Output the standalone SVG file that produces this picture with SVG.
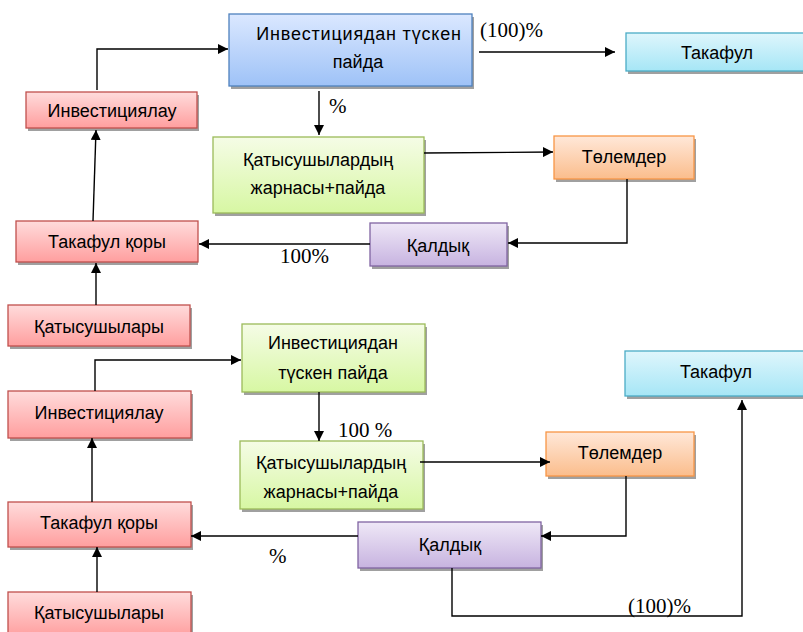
<svg xmlns="http://www.w3.org/2000/svg" width="803" height="632" viewBox="0 0 803 632">
<style>
.t{font-family:"Liberation Sans",Arial,sans-serif;font-size:18px;fill:#000;text-anchor:middle}
.l{font-family:"Liberation Serif","Times New Roman",serif;font-size:21px;fill:#000}
.sh{fill:#a0a0a0}
.c{fill:none;stroke:#000;stroke-width:1.4}
.red{fill:url(#gRed);stroke:#c0504d;stroke-width:1.3}
.blue{fill:url(#gBlue);stroke:#4f81bd;stroke-width:1.3}
.cyan{fill:url(#gCyan);stroke:#4bacc6;stroke-width:1.3}
.green{fill:url(#gGreen);stroke:#9bbb59;stroke-width:1.3}
.orange{fill:url(#gOrange);stroke:#f79646;stroke-width:1.3}
.purple{fill:url(#gPurple);stroke:#8064a2;stroke-width:1.3}
</style>
<defs>
<linearGradient id="gRed" x1="0" y1="0" x2="0" y2="1"><stop offset="0" stop-color="#ffdcdc"/><stop offset="1" stop-color="#ff9e9e"/></linearGradient>
<linearGradient id="gBlue" x1="0" y1="0" x2="0" y2="1"><stop offset="0" stop-color="#dbe8ff"/><stop offset="1" stop-color="#9ec2f7"/></linearGradient>
<linearGradient id="gCyan" x1="0" y1="0" x2="0" y2="1"><stop offset="0" stop-color="#dff6fc"/><stop offset="1" stop-color="#a6e6f6"/></linearGradient>
<linearGradient id="gGreen" x1="0" y1="0" x2="0" y2="1"><stop offset="0" stop-color="#f5fce6"/><stop offset="1" stop-color="#d7f7a3"/></linearGradient>
<linearGradient id="gOrange" x1="0" y1="0" x2="0" y2="1"><stop offset="0" stop-color="#ffe8d9"/><stop offset="1" stop-color="#fbbd8c"/></linearGradient>
<linearGradient id="gPurple" x1="0" y1="0" x2="0" y2="1"><stop offset="0" stop-color="#efe8f7"/><stop offset="1" stop-color="#c7b3e0"/></linearGradient>
<marker id="ah" viewBox="0 0 10 10" refX="10" refY="5" markerWidth="10" markerHeight="10" markerUnits="userSpaceOnUse" orient="auto"><path d="M0,0 L10,5 L0,10 Z" fill="#000"/></marker>
</defs>
<rect width="803" height="632" fill="#fff"/>

<!-- top half -->
<g id="n_profit1"><rect class="sh" x="231" y="17" width="243" height="72"/><rect class="blue" x="229" y="14" width="243" height="72"/><text class="t" x="359" y="40" letter-spacing="0.8">Инвестициядан түскен</text><text class="t" x="358" y="68">пайда</text></g>
<g id="n_takaful1"><rect class="sh" x="628" y="36" width="180" height="38"/><rect class="cyan" x="626" y="33" width="180" height="38"/><text class="t" x="717" y="59">Такафул</text></g>
<g id="n_invest1"><rect class="sh" x="28" y="95" width="171" height="36"/><rect class="red" x="26" y="92" width="171" height="36"/><text class="t" x="112" y="117">Инвестициялау</text></g>
<g id="n_contrib1"><rect class="sh" x="215" y="140" width="211" height="76"/><rect class="green" x="213" y="137" width="211" height="76"/><text class="t" x="318" y="166">Қатысушылардың</text><text class="t" x="318" y="194">жарнасы+пайда</text></g>
<g id="n_pay1"><rect class="sh" x="556" y="139" width="140" height="43"/><rect class="orange" x="554" y="136" width="140" height="43"/><text class="t" x="624" y="163">Төлемдер</text></g>
<g id="n_rest1"><rect class="sh" x="372" y="226" width="137" height="43"/><rect class="purple" x="370" y="223" width="137" height="43"/><text class="t" x="438" y="252">Қалдық</text></g>
<g id="n_fund1"><rect class="sh" x="18" y="224" width="180" height="41"/><rect class="red" x="16" y="221" width="182" height="41"/><text class="t" x="107" y="248">Такафул қоры</text></g>
<g id="n_part1"><rect class="sh" x="10" y="308" width="182" height="41"/><rect class="red" x="8" y="305" width="182" height="41"/><text class="t" x="99" y="333">Қатысушылары</text></g>

<!-- bottom half -->
<g id="n_profit2"><rect class="sh" x="244" y="327" width="183" height="68"/><rect class="green" x="242" y="324" width="183" height="68"/><text class="t" x="333" y="349">Инвестициядан</text><text class="t" x="333" y="379">түскен пайда</text></g>
<g id="n_takaful2"><rect class="sh" x="627" y="354" width="180" height="45"/><rect class="cyan" x="625" y="351" width="180" height="45"/><text class="t" x="716" y="378">Такафул</text></g>
<g id="n_invest2"><rect class="sh" x="10" y="394" width="183" height="47"/><rect class="red" x="8" y="391" width="183" height="47"/><text class="t" x="99" y="419">Инвестициялау</text></g>
<g id="n_contrib2"><rect class="sh" x="242" y="444" width="183" height="68"/><rect class="green" x="240" y="441" width="183" height="68"/><text class="t" x="331" y="469">Қатысушылардың</text><text class="t" x="331" y="498">жарнасы+пайда</text></g>
<g id="n_pay2"><rect class="sh" x="548" y="435" width="148" height="44"/><rect class="orange" x="546" y="432" width="148" height="44"/><text class="t" x="620" y="459">Төлемдер</text></g>
<g id="n_rest2"><rect class="sh" x="360" y="525" width="183" height="46"/><rect class="purple" x="358" y="522" width="183" height="46"/><text class="t" x="450" y="551">Қалдық</text></g>
<g id="n_fund2"><rect class="sh" x="10" y="505" width="183" height="45"/><rect class="red" x="8" y="502" width="183" height="45"/><text class="t" x="99" y="529">Такафул қоры</text></g>
<g id="n_part2"><rect class="sh" x="10" y="595" width="183" height="45"/><rect class="red" x="8" y="592" width="183" height="45"/><text class="t" x="99" y="619">Қатысушылары</text></g>

<g id="connectors">
<polyline class="c" points="97,90 97,49 228,49" marker-end="url(#ah)"/>
<line class="c" x1="479" y1="52" x2="615" y2="52" marker-end="url(#ah)"/>
<line class="c" x1="319" y1="91" x2="319" y2="135" marker-end="url(#ah)"/>
<line class="c" x1="424" y1="153" x2="553" y2="152" marker-end="url(#ah)"/>
<polyline class="c" points="627,179 627,243 508,243" marker-end="url(#ah)"/>
<line class="c" x1="370" y1="244" x2="199" y2="244" marker-end="url(#ah)"/>
<line class="c" x1="93" y1="221" x2="96" y2="130" marker-end="url(#ah)"/>
<line class="c" x1="96" y1="305" x2="96" y2="263" marker-end="url(#ah)"/>

<polyline class="c" points="95,391 95,360 241,360" marker-end="url(#ah)"/>
<line class="c" x1="319" y1="392" x2="319" y2="441" marker-end="url(#ah)"/>
<line class="c" x1="420" y1="462" x2="550" y2="462" marker-end="url(#ah)"/>
<polyline class="c" points="626,476 626,536 541,536" marker-end="url(#ah)"/>
<line class="c" x1="358" y1="536" x2="191" y2="536" marker-end="url(#ah)"/>
<line class="c" x1="92" y1="502" x2="92" y2="438" marker-end="url(#ah)"/>
<line class="c" x1="97" y1="592" x2="97" y2="547" marker-end="url(#ah)"/>
<polyline class="c" points="452,568 452,616 742,616 742,400" marker-end="url(#ah)"/>
</g>

<g id="labels">
<text class="l" x="480" y="37">(100)%</text>
<text class="l" x="329" y="113">%</text>
<text class="l" x="280" y="263">100%</text>
<text class="l" x="338" y="437">100 %</text>
<text class="l" x="269" y="563">%</text>
<text class="l" x="628" y="613">(100)%</text>
</g>
</svg>
